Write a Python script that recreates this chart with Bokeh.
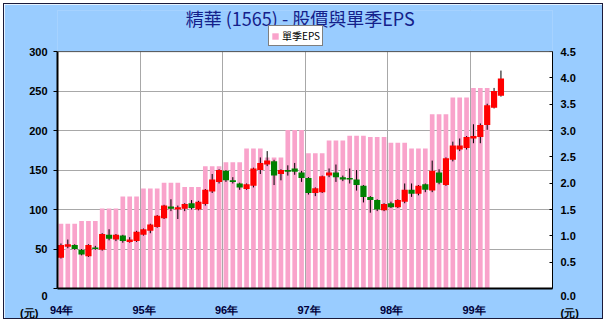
from bokeh.plotting import figure
from bokeh.models import (Range1d, LinearAxis, FixedTicker, Legend, LegendItem,
                          Label, Span, BoxAnnotation, ColumnDataSource, NumeralTickFormatter)
from bokeh.embed import file_html
from bokeh.resources import INLINE

# ---------------- data ----------------
title_text = "精華 (1565) - 股價與單季EPS"
year_labels = ["94年", "95年", "96年", "97年", "98年", "99年"]
unit_label = "(元)"
eps_label = "單季EPS"

# monthly candles from 94/01 (open, high, low, close)
open_ = [39, 53, 55, 49, 41, 52, 49, 68, 62, 67, 59, 60,
         68, 73, 78, 89, 104, 100, 101, 108, 100, 107, 123, 135,
         149, 137, 133, 126, 130, 150, 157, 161, 145, 150, 152, 147,
         140, 121, 122, 143, 147, 141, 140, 138, 130, 116, 112, 99,
         108, 103, 110, 125, 120, 132, 124, 147, 131, 163, 176, 178,
         190, 192, 207, 229, 244]
high = [57, 62, 56, 50, 56, 54, 70, 75, 69, 68, 65, 73,
        76, 82, 93, 106, 113, 105, 108, 112, 111, 126, 145, 151,
        150, 141, 134, 133, 153, 166, 174, 163, 151, 156, 159, 149,
        141, 128, 143, 152, 157, 143, 152, 150, 131, 117, 113, 108,
        110, 113, 133, 133, 131, 133, 162, 151, 166, 186, 190, 193,
        208, 209, 234, 254, 276]
low = [38, 51, 49, 42, 40, 49, 48, 61, 60, 58, 58, 59,
       67, 70, 77, 88, 98, 88, 98, 100, 99, 105, 121, 133,
       135, 133, 125, 125, 128, 145, 155, 131, 137, 143, 144, 135,
       119, 117, 121, 141, 135, 136, 133, 124, 109, 96, 98, 98,
       102, 102, 108, 116, 118, 122, 122, 132, 130, 161, 174, 176,
       184, 184, 201, 228, 243]
close = [55, 56, 50, 43, 55, 50, 69, 63, 68, 60, 62, 72,
         75, 81, 92, 105, 101, 103, 107, 102, 110, 125, 138, 150,
         137, 135, 128, 132, 152, 159, 162, 143, 150, 148, 148, 140,
         121, 127, 142, 147, 141, 138, 138, 131, 116, 112, 100, 107,
         103, 112, 125, 120, 130, 125, 149, 134, 165, 181, 181, 192,
         193, 207, 232, 250, 266]

# quarterly EPS from 94Q1 (drawn as one bar per month of the quarter)
eps_quarter = [1.23, 1.28, 1.52, 1.75, 1.90, 2.01, 1.93, 2.32, 2.40, 2.66, 2.49,
               3.01, 2.57, 2.81, 2.90, 2.88, 2.77, 2.66, 3.31, 3.63, 3.81]

price_ticks = [0, 50, 100, 150, 200, 250, 300]
eps_ticks = [0, 0.5, 1, 1.5, 2, 2.5, 3, 3.5, 4, 4.5]

# ---------------- derived sources ----------------
n_months = 72
price_max, eps_max = 300, 4.5
cx = [i + 0.5 for i in range(len(open_))]
up = [c >= o for o, c in zip(open_, close)]
candle = ColumnDataSource(dict(
    x=cx, high=high, low=low,
    top=[max(o, c) for o, c in zip(open_, close)],
    bottom=[min(o, c) for o, c in zip(open_, close)],
    color=["#FF0000" if u else "#008000" for u in up],
))
eps_x, eps_v = [], []
for q, v in enumerate(eps_quarter):
    for k in range(3):
        eps_x.append(3 * q + k + 0.5)
        eps_v.append(v)
eps_src = ColumnDataSource(dict(x=eps_x, top=eps_v))

# ---------------- figure ----------------
# the frame reaches up to the title; the white plotting box is 0..300
FRAME_TOP, BOX_TOP, BOX_BOTTOM = 10, 52, 294       # page pixels
stretch = (BOX_BOTTOM - FRAME_TOP) / (BOX_BOTTOM - BOX_TOP)
BG = "#99CCFF"

p = figure(width=598, height=314, x_range=Range1d(0, n_months),
           y_range=Range1d(0, price_max * stretch),
           output_backend="svg", toolbar_location=None, title=None,
           min_border_left=53, min_border_right=50, min_border_top=FRAME_TOP - 4,
           min_border_bottom=24, background_fill_color=BG, border_fill_color=BG)
p.margin = (4, 4, 4, 4)
p.styles = {"outline": "1px solid #1a1a3a"}
p.outline_line_color = None
p.extra_y_ranges = {"eps": Range1d(0, eps_max * stretch)}
p.xaxis.visible = False
p.yaxis.visible = False

# white plotting box, drawn beneath the grid lines
box = BoxAnnotation(left=0, right=n_months, bottom=0, top=price_max,
                    fill_color="white", fill_alpha=1, line_color=None, level="underlay")
p.center = [box] + list(p.center)

tick_font = "Liberation Sans"
nb = "\u00a0"
pad = (nb + "\n") * 2
year_ticks = [0, 12, 24, 36, 48, 60]
label_ticks = [t + 0.6 for t in year_ticks]
xax = LinearAxis(ticker=FixedTicker(ticks=label_ticks),
                 major_label_overrides={t: l for t, l in zip(label_ticks, year_labels)})
xax.axis_line_color = "black"
xax.axis_line_width = 2
xax.major_tick_line_color = None
xax.minor_tick_line_color = None
xax.major_label_standoff = 9
xax.major_label_text_font = tick_font
xax.major_label_text_font_style = "bold"
xax.major_label_text_font_size = "11px"
xax.major_label_text_color = "#00003a"
p.add_layout(xax, "below")

lax = LinearAxis(ticker=FixedTicker(ticks=price_ticks), bounds=(0, price_max),
                 major_label_overrides={0: pad + "0\n" + unit_label + nb * 3})
lax.axis_line_color = "black"
lax.axis_line_width = 2
lax.major_tick_out = 4
lax.major_tick_in = 0
lax.minor_tick_line_color = None
lax.major_label_standoff = 6
lax.major_label_text_font = tick_font
lax.major_label_text_font_style = "bold"
lax.major_label_text_font_size = "11px"
lax.major_label_text_line_height = 1.35
lax.major_label_text_color = "black"
p.add_layout(lax, "left")

rax = LinearAxis(y_range_name="eps", ticker=FixedTicker(ticks=eps_ticks), bounds=(0, eps_max),
                 formatter=NumeralTickFormatter(format="0.0"),
                 major_label_overrides={0: pad + "0.0\n" + unit_label})
rax.axis_line_color = "black"
rax.axis_line_width = 1
rax.major_tick_out = 0
rax.major_tick_in = 3
rax.minor_tick_line_color = None
rax.major_label_standoff = 8
rax.major_label_text_font = tick_font
rax.major_label_text_font_style = "bold"
rax.major_label_text_font_size = "11px"
rax.major_label_text_line_height = 1.35
rax.major_label_text_color = "black"
p.add_layout(rax, "right")

p.xgrid.ticker = FixedTicker(ticks=year_ticks[1:])
p.ygrid.ticker = FixedTicker(ticks=price_ticks[1:-1])
p.xgrid.grid_line_color = "#A8A8A8"
p.ygrid.grid_line_color = "#A8A8A8"

# blue band above the plotting box hides the grid lines there
p.quad(left=-2, right=n_months + 2, bottom=price_max, top=price_max * stretch * 1.1,
       fill_color=BG, line_color=None)
p.add_layout(Span(location=price_max, dimension="width", line_color="#505050", line_width=1))

bars = p.vbar(x="x", top="top", bottom=0, width=0.68, source=eps_src,
              y_range_name="eps", fill_color="#F9A3CB", line_color=None)
p.segment(x0="x", x1="x", y0="low", y1="high", source=candle, line_color="black", line_width=1)
p.vbar(x="x", top="top", bottom="bottom", width=0.9, source=candle,
       fill_color="color", line_color=None)

legend = Legend(items=[LegendItem(label=eps_label, renderers=[bars])],
                location=(211, 242), orientation="horizontal")
legend.border_line_color = "black"
legend.border_line_width = 1
legend.background_fill_color = "white"
legend.background_fill_alpha = 1
legend.padding = 2
legend.margin = 0
legend.spacing = 0
legend.glyph_width = 8
legend.glyph_height = 8
legend.label_standoff = 3
legend.label_height = 10
legend.label_text_font = "Noto Sans CJK TC"
legend.label_text_font_size = "10px"
legend.label_text_color = "black"
p.add_layout(legend, "center")

p.add_layout(Label(x=242.7, y=271, x_units="screen", y_units="screen", text=title_text,
                   text_align="center", text_baseline="middle",
                   text_font="Noto Sans CJK TC", text_font_size="18px", text_color="#14208a"))

open("out.html", "w").write(file_html(p, INLINE))
